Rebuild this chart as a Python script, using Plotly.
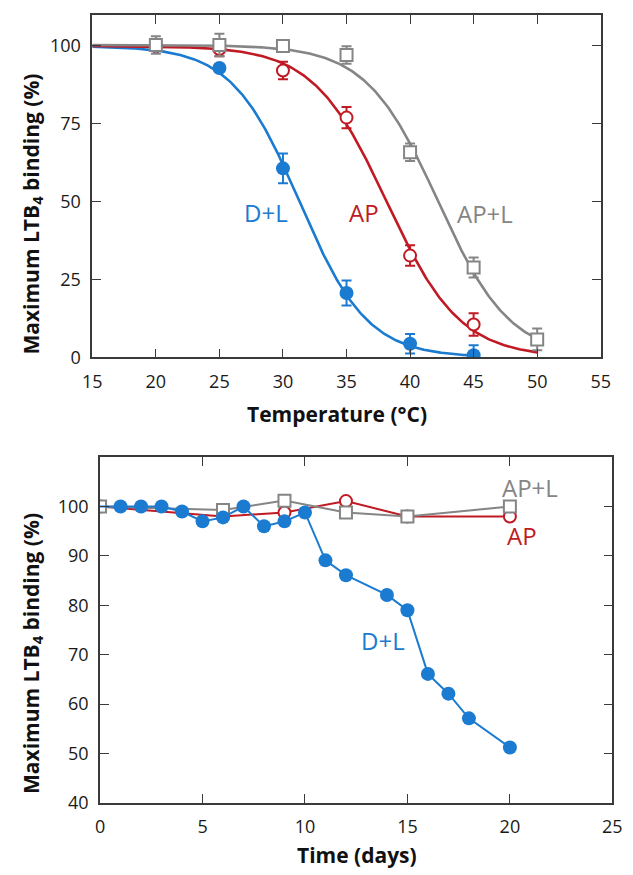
import numpy as np
import plotly.graph_objects as go

# ---------------- Thermal stability (top panel) ----------------
temp_dl = [20, 25, 30, 35, 40, 45]
bind_dl = [100, 92.9, 60.7, 20.7, 4.4, 0.7]
err_dl = [0, 0, 4.8, 4.0, 3.1, 3.2]

temp_ap = [20, 25, 30, 35, 40, 45]
bind_ap = [100, 99.0, 92.1, 77.0, 32.7, 10.6]
err_ap = [0, 2.3, 2.8, 3.4, 3.3, 3.6]

temp_apl = [20, 25, 30, 35, 40, 45, 50]
bind_apl = [100.3, 100.3, 100.0, 97.1, 65.9, 28.9, 5.8]
err_apl = [2.8, 3.6, 1.8, 2.8, 2.8, 3.2, 3.5]

# ---------------- Time course at fixed temperature (bottom panel) ----------------
days_dl = [0, 1, 2, 3, 4, 5, 6, 7, 8, 9, 10, 11, 12, 14, 15, 16, 17, 18, 20]
time_dl = [100, 100, 100, 100, 99, 97, 97.8, 100, 96, 97, 98.8, 89.1, 86.1, 82.1, 79, 66.1, 62.1, 57.1, 51.2]

days_ap = [0, 6, 9, 12, 15, 20]
time_ap = [100, 98, 98.8, 101.1, 98, 98]

days_apl = [0, 6, 9, 12, 15, 20]
time_apl = [100, 99.3, 101.2, 98.8, 98, 100]

BLUE = "#1a7bd0"
RED = "#c01a24"
GRAY = "#858585"
FRAME = "#3a3a3a"
FONT = "Open Sans"


def fit_sigmoid(x, y):
    """Fit y = top / (1 + exp((x - x0) / k)) with the plateau fixed at the
    highest (normalised) value; x0 and k found by least-squares grid search."""
    x = np.asarray(x, float)
    y = np.asarray(y, float)
    top = y.max()
    x0s = np.arange(20.0, 50.0, 0.02)
    ks = np.arange(0.5, 8.0, 0.01)
    X0, K = np.meshgrid(x0s, ks, indexing="ij")
    f = top / (1.0 + np.exp((x[None, None, :] - X0[..., None]) / K[..., None]))
    sse = ((f - y) ** 2).sum(-1)
    i, j = np.unravel_index(np.argmin(sse), sse.shape)
    return top, x0s[i], ks[j]


def curve(x, y, x_start, x_end):
    top, x0, k = fit_sigmoid(x, y)
    xs = np.linspace(x_start, x_end, 300)
    return xs, top / (1.0 + np.exp((xs - x0) / k))


fig = go.Figure()

# fitted curves
for (x, y, xe, col) in [
    (temp_dl, bind_dl, 45, BLUE),
    (temp_ap, bind_ap, 50, RED),
    (temp_apl, bind_apl, 50, GRAY),
]:
    xs, ys = curve(x, y, 15, xe)
    fig.add_trace(go.Scatter(x=xs, y=ys, mode="lines", line=dict(color=col, width=2.6),
                             xaxis="x", yaxis="y", hoverinfo="skip", showlegend=False))

# measured points with error bars
fig.add_trace(go.Scatter(
    x=temp_dl, y=bind_dl, mode="markers", name="D+L", showlegend=False,
    marker=dict(symbol="circle", size=14, color=BLUE, opacity=1, line=dict(width=0)),
    error_y=dict(type="data", array=err_dl, color=BLUE, thickness=2, width=5),
    xaxis="x", yaxis="y"))
fig.add_trace(go.Scatter(
    x=temp_ap, y=bind_ap, mode="markers", name="AP", showlegend=False,
    marker=dict(symbol="circle", size=12, color="white", opacity=1, line=dict(color=RED, width=2)),
    error_y=dict(type="data", array=err_ap, color=RED, thickness=2, width=5),
    xaxis="x", yaxis="y"))
fig.add_trace(go.Scatter(
    x=temp_apl, y=bind_apl, mode="markers", name="AP+L", showlegend=False,
    marker=dict(symbol="square", size=12, color="white", opacity=1, line=dict(color=GRAY, width=2)),
    error_y=dict(type="data", array=err_apl, color=GRAY, thickness=2, width=5),
    xaxis="x", yaxis="y"))

# time course
fig.add_trace(go.Scatter(
    x=days_ap, y=time_ap, mode="lines+markers", name="AP", showlegend=False,
    line=dict(color=RED, width=2),
    marker=dict(symbol="circle", size=12, color="white", opacity=1, line=dict(color=RED, width=2)),
    xaxis="x2", yaxis="y2"))
fig.add_trace(go.Scatter(
    x=days_apl, y=time_apl, mode="lines+markers", name="AP+L", showlegend=False,
    line=dict(color=GRAY, width=2),
    marker=dict(symbol="square", size=12, color="white", opacity=1, line=dict(color=GRAY, width=2)),
    xaxis="x2", yaxis="y2"))
# the day-0 reading is shared by all series, so the D+L line starts under the square
dl_sizes = [0 if d == 0 else 14 for d in days_dl]
fig.add_trace(go.Scatter(
    x=days_dl, y=time_dl, mode="lines+markers", name="D+L", showlegend=False,
    line=dict(color=BLUE, width=2),
    marker=dict(symbol="circle", size=dl_sizes, color=BLUE, opacity=1, line=dict(width=0)),
    xaxis="x2", yaxis="y2"))

W, H = 633, 875


def axis_style(**kw):
    d = dict(showline=True, mirror="ticks", linecolor=FRAME, linewidth=1.6,
             ticks="inside", ticklen=9, tickwidth=1.4, tickcolor=FRAME,
             showgrid=False, zeroline=False, fixedrange=True,
             tickfont=dict(family=FONT, size=18, color="#1a1a1a"))
    d.update(kw)
    return d


fig.update_layout(
    width=W, height=H, margin=dict(l=0, r=0, t=0, b=0),
    paper_bgcolor="white", plot_bgcolor="white",
    xaxis=axis_style(domain=[85 / W, 610 / W], range=[15, 55], tick0=15, dtick=5,
                     anchor="y", ticklabelstandoff=7),
    yaxis=axis_style(domain=[1 - 362 / H, 1 - 15 / H], range=[0, 110],
                     tickvals=[0, 25, 50, 75, 100], anchor="x", ticklabelstandoff=6),
    xaxis2=axis_style(domain=[93 / W, 622 / W], range=[0, 25], tick0=0, dtick=5,
                      anchor="y2", ticklabelstandoff=7),
    yaxis2=axis_style(domain=[1 - 813 / H, 1 - 463 / H], range=[40, 110],
                      tickvals=[40, 50, 60, 70, 80, 90, 100], anchor="x2", ticklabelstandoff=6),
)

title_font = dict(family=FONT, size=21, color="#111111")


def label_font(c):
    return dict(family=FONT, size=24, color=c)


annotations = [
    # axis titles
    dict(text="<b>Temperature (°C)</b>", x=338 / W, y=1 - 419 / H, xref="paper", yref="paper",
         showarrow=False, font=title_font, xanchor="center", yanchor="middle"),
    dict(text="<b>Time (days)</b>", x=358 / W, y=1 - 866 / H, xref="paper", yref="paper",
         showarrow=False, font=title_font, xanchor="center", yanchor="middle"),
    dict(text="<b>Maximum LTB<sub>4</sub> binding (%)</b>", x=23 / W, y=1 - 217 / H,
         xref="paper", yref="paper", showarrow=False, font=title_font, textangle=-90,
         xanchor="center", yanchor="middle"),
    dict(text="<b>Maximum LTB<sub>4</sub> binding (%)</b>", x=22 / W, y=1 - 662 / H,
         xref="paper", yref="paper", showarrow=False, font=title_font, textangle=-90,
         xanchor="center", yanchor="middle"),
    # series labels, top panel
    dict(text="D+L", x=28.65, y=46.6, xref="x", yref="y", showarrow=False, font=label_font(BLUE)),
    dict(text="AP", x=36.36, y=46.6, xref="x", yref="y", showarrow=False, font=label_font(RED)),
    dict(text="AP+L", x=45.9, y=46.1, xref="x", yref="y", showarrow=False, font=label_font(GRAY)),
    # series labels, bottom panel
    dict(text="AP+L", x=20.97, y=103.8, xref="x2", yref="y2", showarrow=False, font=label_font(GRAY)),
    dict(text="AP", x=20.58, y=94.1, xref="x2", yref="y2", showarrow=False, font=label_font(RED)),
    dict(text="D+L", x=13.79, y=72.9, xref="x2", yref="y2", showarrow=False, font=label_font(BLUE)),
]
fig.update_layout(annotations=annotations)

fig.write_html("out.html")
